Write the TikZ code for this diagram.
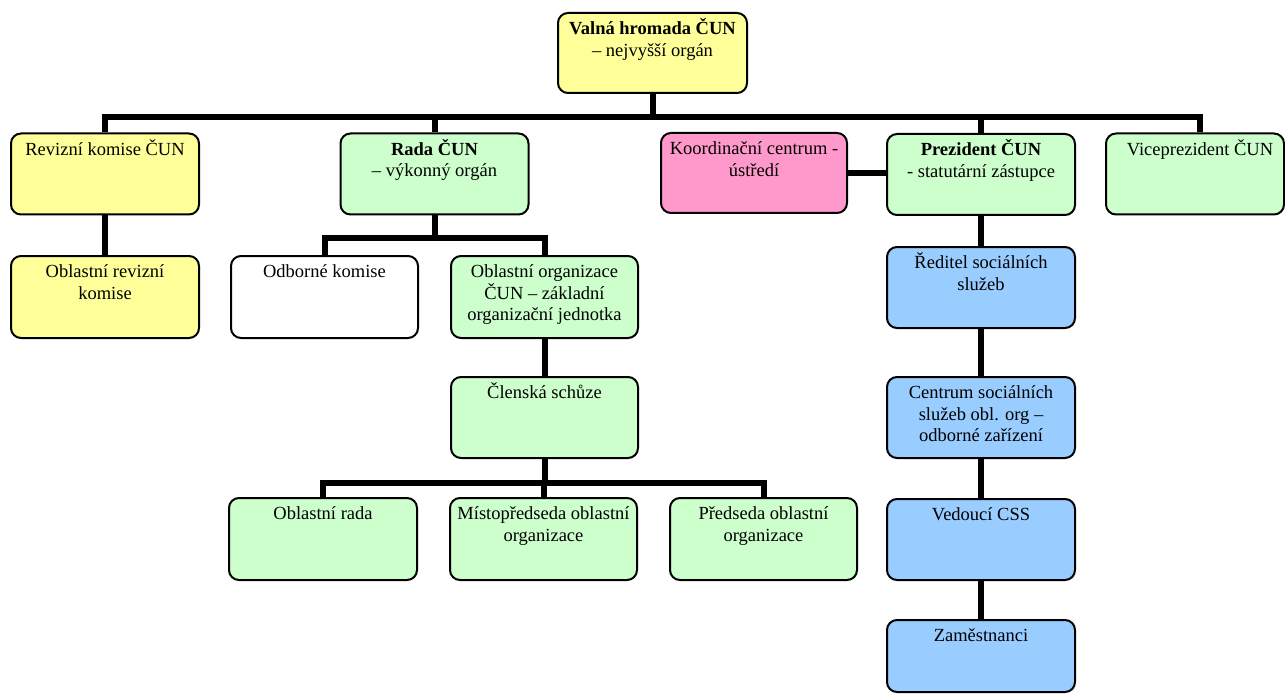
\documentclass[tikz,border=0pt]{standalone}
\usepackage{fontspec}
\setmainfont{Liberation Serif}
\definecolor{yel}{HTML}{FFFF99}
\definecolor{grn}{HTML}{CCFFCC}
\definecolor{pnk}{HTML}{FF99CC}
\definecolor{blu}{HTML}{99CCFF}
\newcommand\firstln{\rule{0pt}{19pt}}
\begin{document}
\begin{tikzpicture}[x=1pt,y=-1pt,
  box/.style={draw=black, line width=2pt, rounded corners=10pt, inner sep=0pt, minimum width=188pt, minimum height=81pt},
  txt/.style={anchor=north, inner sep=0pt, align=center, font=\fontsize{18.5}{21.5}\selectfont},
  conn/.style={line width=6pt, draw=black, line join=miter}]
\clip (0,0) rectangle (1285,695);
\fill[white] (0,0) rectangle (1285,695);
% boxes
\node[box, fill=yel, minimum width=189pt, minimum height=80pt] (valna) at (652.5,53) {};
\node[box, fill=yel] (rev) at (105,174) {};
\node[box, fill=grn] (rada) at (434.5,174) {};
\node[box, fill=pnk, minimum width=186pt, minimum height=80pt] (koord) at (754,173) {};
\node[box, fill=grn] (prez) at (981,174.5) {};
\node[box, fill=grn, minimum width=178pt] (vice) at (1195,174) {};
\node[box, fill=yel, minimum height=82pt] (orev) at (105,297) {};
\node[box, fill=white, minimum width=187pt, minimum height=82pt] (odb) at (324.5,297) {};
\node[box, fill=grn, minimum width=187pt, minimum height=82pt] (oorg) at (544.5,297) {};
\node[box, fill=blu] (red) at (981,287.5) {};
\node[box, fill=grn, minimum width=187pt] (cs) at (544.5,417.5) {};
\node[box, fill=blu] (cent) at (981,417.5) {};
\node[box, fill=grn, minimum height=82pt] (orada) at (323,539) {};
\node[box, fill=grn, minimum width=187pt, minimum height=82pt] (mist) at (543.5,539) {};
\node[box, fill=grn, minimum width=187pt, minimum height=82pt] (pred) at (763.5,539) {};
\node[box, fill=blu] (ved) at (981,539.5) {};
\node[box, fill=blu, minimum height=72pt] (zam) at (981,656) {};
% texts
\node[txt] (valna-t) at ([yshift=-3.5pt]valna.north) {\firstln\textbf{Valná hromada ČUN}\\– nejvyšší orgán};
\node[txt] (rev-t) at ([yshift=-3.5pt]rev.north) {\firstln Revizní komise ČUN};
\node[txt] (rada-t) at ([yshift=-3.5pt]rada.north) {\firstln\textbf{Rada ČUN}\\– výkonný orgán};
\node[txt] (koord-t) at ([yshift=-3.5pt]koord.north) {\firstln Koordinační centrum -\\ústředí};
\node[txt] (prez-t) at ([yshift=-3.5pt]prez.north) {\firstln\textbf{Prezident ČUN}\\- statutární zástupce};
\node[txt] (vice-t) at ([xshift=5pt,yshift=-3.5pt]vice.north) {\firstln Viceprezident ČUN};
\node[txt] (orev-t) at ([yshift=-3.5pt]orev.north) {\firstln Oblastní revizní\\komise};
\node[txt] (odb-t) at ([yshift=-3.5pt]odb.north) {\firstln Odborné komise};
\node[txt] (oorg-t) at ([yshift=-3.5pt]oorg.north) {\firstln Oblastní organizace\\ČUN – základní\\organizační jednotka};
\node[txt] (red-t) at ([yshift=-3.5pt]red.north) {\firstln Ředitel sociálních\\služeb};
\node[txt] (cs-t) at ([yshift=-3.5pt]cs.north) {\firstln Členská schůze};
\node[txt] (cent-t) at ([yshift=-3.5pt]cent.north) {\firstln Centrum sociálních\\služeb obl. org –\\odborné zařízení};
\node[txt] (orada-t) at ([yshift=-3.5pt]orada.north) {\firstln Oblastní rada};
\node[txt] (mist-t) at ([yshift=-3.5pt]mist.north) {\firstln Místopředseda oblastní\\organizace};
\node[txt] (pred-t) at ([yshift=-3.5pt]pred.north) {\firstln Předseda oblastní\\organizace};
\node[txt] (ved-t) at ([yshift=-3.5pt]ved.north) {\firstln Vedoucí CSS};
\node[txt] (zam-t) at ([yshift=-3.5pt]zam.north) {\firstln Zaměstnanci};
% connectors
\coordinate (bus) at (0,117);
\coordinate (bus2) at (0,238);
\coordinate (bus3) at (0,483);
\draw[conn] (rev.north) -- (rev.north |- bus) -- (vice-t.north |- bus) -- (vice-t.north |- vice.north);
\draw[conn] (valna.south) -- (valna.south |- bus);
\draw[conn] (rada.north) -- (rada.north |- bus);
\draw[conn] (prez.north) -- (prez.north |- bus);
\draw[conn] (rev.south) -- (orev.north);
\draw[conn] (rada.south) -- (rada.south |- bus2);
\draw[conn] (odb.north) -- (odb.north |- bus2) -- (oorg.north |- bus2) -- (oorg.north);
\draw[conn] (oorg.south) -- (cs.north);
\draw[conn] (cs.south) -- (cs.south |- bus3);
\draw[conn] (orada.north) -- (orada.north |- bus3) -- (pred.north |- bus3) -- (pred.north);
\draw[conn] (mist.north) -- (mist.north |- bus3);
\draw[conn] (koord.east) -- (koord.east -| prez.west);
\draw[conn] (prez.south) -- (red.north);
\draw[conn] (red.south) -- (cent.north);
\draw[conn] (cent.south) -- (ved.north);
\draw[conn] (ved.south) -- (zam.north);
\end{tikzpicture}
\end{document}
